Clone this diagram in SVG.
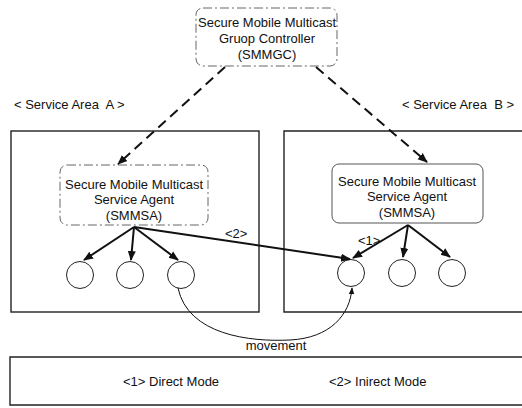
<svg xmlns="http://www.w3.org/2000/svg" width="522" height="408" viewBox="0 0 522 408">
  <style>
    .t { font-family: "Liberation Sans", Arial, sans-serif; font-size: 13px; fill: #111; }
    .c { text-anchor: middle; }
    .area { fill: none; stroke: #222; stroke-width: 1.4; }
    .dbox { fill: #fff; stroke: #666; stroke-width: 1; stroke-dasharray: 9 3 2 3; }
    .sbox { fill: #fff; stroke: #555; stroke-width: 1; }
    .node { fill: #fff; stroke: #222; stroke-width: 1; }
    .dash { fill: none; stroke: #111; stroke-width: 2; stroke-dasharray: 10 6; }
    .solid { fill: none; stroke: #111; stroke-width: 2; }
    .thin { fill: none; stroke: #111; stroke-width: 1; }
  </style>
  <defs>
    <marker id="ah" viewBox="0 0 10 10" refX="9" refY="5" markerWidth="5" markerHeight="5" orient="auto" markerUnits="strokeWidth">
      <path d="M0,1 L10,5 L0,9 Z" fill="#111"/>
    </marker>
    <marker id="ahs" viewBox="0 0 10 10" refX="9" refY="5" markerWidth="7" markerHeight="7" orient="auto" markerUnits="strokeWidth">
      <path d="M0,1 L10,5 L0,9 Z" fill="#111"/>
    </marker>
  </defs>

  <!-- service areas -->
  <g id="area-a">
    <text class="t" x="14" y="109">&lt; Service Area&#160; A &gt;</text>
    <rect class="area" x="11" y="131" width="248" height="181"/>
  </g>
  <g id="area-b">
    <text class="t" x="402" y="109">&lt; Service Area&#160; B &gt;</text>
    <path class="area" d="M522,131 H284 V312 H522"/>
  </g>

  <!-- controller -->
  <g id="smmgc">
    <rect class="dbox" x="196" y="8" width="141" height="58" rx="7"/>
    <text class="t c" x="267" y="27">Secure Mobile Multicast</text>
    <text class="t c" x="267" y="43">Gruop Controller</text>
    <text class="t c" x="267" y="59">(SMMGC)</text>
  </g>

  <!-- service agents -->
  <g id="smmsa-a">
    <rect class="dbox" x="60" y="165" width="148" height="60" rx="7"/>
    <text class="t c" x="134" y="189">Secure Mobile Multicast</text>
    <text class="t c" x="134" y="204">Service Agent</text>
    <text class="t c" x="134" y="220">(SMMSA)</text>
  </g>
  <g id="smmsa-b">
    <rect class="sbox" x="332" y="164" width="151" height="59" rx="7"/>
    <text class="t c" x="407" y="186">Secure Mobile Multicast</text>
    <text class="t c" x="407" y="201">Service Agent</text>
    <text class="t c" x="407" y="217">(SMMSA)</text>
  </g>

  <!-- members -->
  <g id="member-a1"><circle class="node" cx="80" cy="275" r="13.5"/></g>
  <g id="member-a2"><circle class="node" cx="130" cy="275" r="13.5"/></g>
  <g id="member-a3"><circle class="node" cx="181" cy="275" r="13.5"/></g>
  <g id="member-b1"><circle class="node" cx="351" cy="273" r="13.5"/></g>
  <g id="member-b2"><circle class="node" cx="402" cy="273" r="13.5"/></g>
  <g id="member-b3"><circle class="node" cx="452" cy="273" r="13.5"/></g>

  <!-- connectors -->
  <g id="connectors">
    <line class="dash" x1="225" y1="67" x2="118" y2="164" marker-end="url(#ah)"/>
    <line class="dash" x1="316" y1="67" x2="427" y2="162" marker-end="url(#ah)"/>

    <line class="solid" x1="134" y1="227" x2="84" y2="260" marker-end="url(#ah)"/>
    <line class="solid" x1="134" y1="227" x2="131" y2="260" marker-end="url(#ah)"/>
    <line class="solid" x1="134" y1="227" x2="178" y2="260" marker-end="url(#ah)"/>
    <line class="solid" x1="134" y1="227" x2="350" y2="259" marker-end="url(#ah)"/>

    <line class="solid" x1="408" y1="225" x2="353" y2="258" marker-end="url(#ah)"/>
    <line class="solid" x1="408" y1="225" x2="403" y2="257" marker-end="url(#ah)"/>
    <line class="solid" x1="408" y1="225" x2="450" y2="257" marker-end="url(#ah)"/>

    <path class="thin" d="M178,288 C188,335 250,342 290,340 C330,338 350,315 352,288" marker-end="url(#ahs)"/>

    <text class="t" x="225" y="238">&lt;2&gt;</text>
    <text class="t" x="358" y="245">&lt;1&gt;</text>
    <text class="t c" x="276" y="350">movement</text>
  </g>

  <!-- legend -->
  <g id="legend">
    <path class="area" d="M522,357 H10 V405 H522"/>
    <text class="t" x="123" y="386">&lt;1&gt; Direct Mode</text>
    <text class="t" x="329" y="386">&lt;2&gt; Inirect Mode</text>
  </g>
</svg>
